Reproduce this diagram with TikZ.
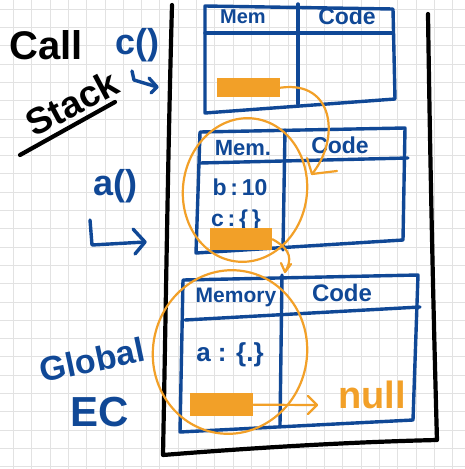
\documentclass[tikz,border=0pt]{standalone}
\usepackage{fontspec}
\setmainfont{Liberation Sans}
\usetikzlibrary{arrows.meta}
\definecolor{inkblue}{RGB}{16,72,150}
\definecolor{inkorange}{RGB}{242,160,40}
\definecolor{gridc}{RGB}{226,226,226}
\newcommand\fsz[1]{\fontsize{#1}{#1}\selectfont\bfseries}
\tikzset{
  blueln/.style={draw=inkblue, line width=3.4pt, line cap=round, line join=round},
  blackln/.style={draw=black, line width=4.2pt, line cap=round, line join=round},
  orangeln/.style={draw=inkorange, line width=2.2pt, line cap=round, line join=round},
  slotbox/.style={fill=inkorange, draw=none, inner sep=0pt, anchor=north west},
  bluetxt/.style={text=inkblue, inner sep=0pt},
  blacktxt/.style={text=black, inner sep=0pt},
  orangetxt/.style={text=inkorange, inner sep=0pt}
}
\begin{document}
\begin{tikzpicture}[x=1pt,y=-1pt]
\fill[white] (0,0) rectangle (465,469);
\useasboundingbox (0,0) rectangle (465,469);
% grid
\foreach \i in {0,...,25} {
  \draw[gridc, line width=0.6pt] ({13.3+18.3*\i},0) -- ({13.3+18.3*\i},469);
  \draw[gridc, line width=0.6pt] (0,{9+18.3*\i}) -- (465,{9+18.3*\i});
}
% black stack frame
\draw[blackln] (172,5) .. controls (168,150) and (166,300) .. (163,455)
  .. controls (250,448) and (350,442) .. (437,440)
  .. controls (433,300) and (430,150) .. (428,14);
% top frame (c)
\draw[blueln] (205,6) -- (393,9) -- (395,99) -- (205,113) -- cycle;
\draw[blueln] (205,33) -- (393,33);
\draw[blueln] (298,4) -- (298,104);
\node[bluetxt, font=\fsz{20}] (tmem) at (243,17) {Mem};
\node[bluetxt, font=\fsz{23}] (tcode) at (347,16) {Code};
\node[slotbox, minimum width=63pt, minimum height=19pt] (ct) at (217,78) {};
% middle frame (a)
\draw[blueln] (200,132) -- (405,128) -- (403,240) -- (196,253) -- cycle;
\draw[blueln] (200,163) -- (408,158);
\draw[blueln] (285,130) -- (283,250);
\node[bluetxt, font=\fsz{22}] (mmem) at (243,148) {Mem.};
\node[bluetxt, font=\fsz{23}] (mcode) at (340,145) {Code};
\node[bluetxt, font=\fsz{23}] (mb) at (240,187) {b\,:\,10};
\node[bluetxt, font=\fsz{23}] (mc) at (236,221) {c\,:\,\{\,\}};
\node[slotbox, minimum width=62pt, minimum height=22pt] (cm) at (210,228) {};
% bottom frame (global)
\draw[blueln] (183,280) -- (418,275) -- (413,420) -- (180,432) -- cycle;
\draw[blueln] (185,320) -- (420,307);
\draw[blueln] (282,275) -- (280,425);
\node[bluetxt, font=\fsz{21}] (gmem) at (236,297) {Memory};
\node[bluetxt, font=\fsz{24}] (gcode) at (342,293) {Code};
\node[bluetxt, font=\fsz{26}] (ga) at (230,355) {a : \{.\}};
\node[slotbox, minimum width=63pt, minimum height=23pt] (cb) at (190,393) {};
% orange rings
\draw[orangeln] (245,190) ellipse [x radius=62, y radius=72, rotate=-8];
\draw[orangeln] (230,352) ellipse [x radius=77, y radius=82, rotate=-12];
% orange arrows
\coordinate (h1) at (312,174);
\draw[orangeln] (ct.east) .. controls (335,80) and (340,140) .. (h1);
\draw[orangeln] (307,158) -- (h1) -- (337,171);
\coordinate (h2) at (285,272);
\draw[orangeln] (cm.east) .. controls (292,250) and (292,260) .. (h2);
\draw[orangeln] (281,263) -- (h2) -- (291,264);
\node[orangetxt, font=\fsz{38}] (nul) at (372,395) {null};
\coordinate (h3) at (317,405);
\draw[orangeln] (cb.east) -- (h3);
\draw[orangeln] (308,396) -- (h3) -- (308,414);
% left labels
\node[blacktxt, font=\fsz{40}] (call) at (46,45) {Call};
\node[blacktxt, font=\fsz{37}, rotate=28] (stack) at (72,103) {Stack};
\coordinate (u1) at (20,155);
\coordinate (u2) at (115,102);
\draw[blackln] (u1) -- (u2);
\node[bluetxt, font=\fsz{36}] (cfun) at (137,45) {c()};
\coordinate (ca0) at (132,71);
\coordinate (ca1) at (157,87);
\draw[blueln] (ca0) -- (134,80) -- (ca1);
\draw[blueln] (149,78) -- (ca1) -- (151,93);
\node[bluetxt, font=\fsz{36}] (afun) at (115,186) {a()};
\coordinate (aa0) at (90,220);
\coordinate (aa1) at (145,242);
\draw[blueln] (aa0) -- (92,245) -- (aa1);
\draw[blueln] (133,229) -- (aa1) -- (135,254);
\node[bluetxt, font=\fsz{34}, rotate=12] (glob) at (92,360) {Global};
\node[bluetxt, font=\fsz{42}] (ec) at (100,412) {EC};
\end{tikzpicture}
\end{document}
